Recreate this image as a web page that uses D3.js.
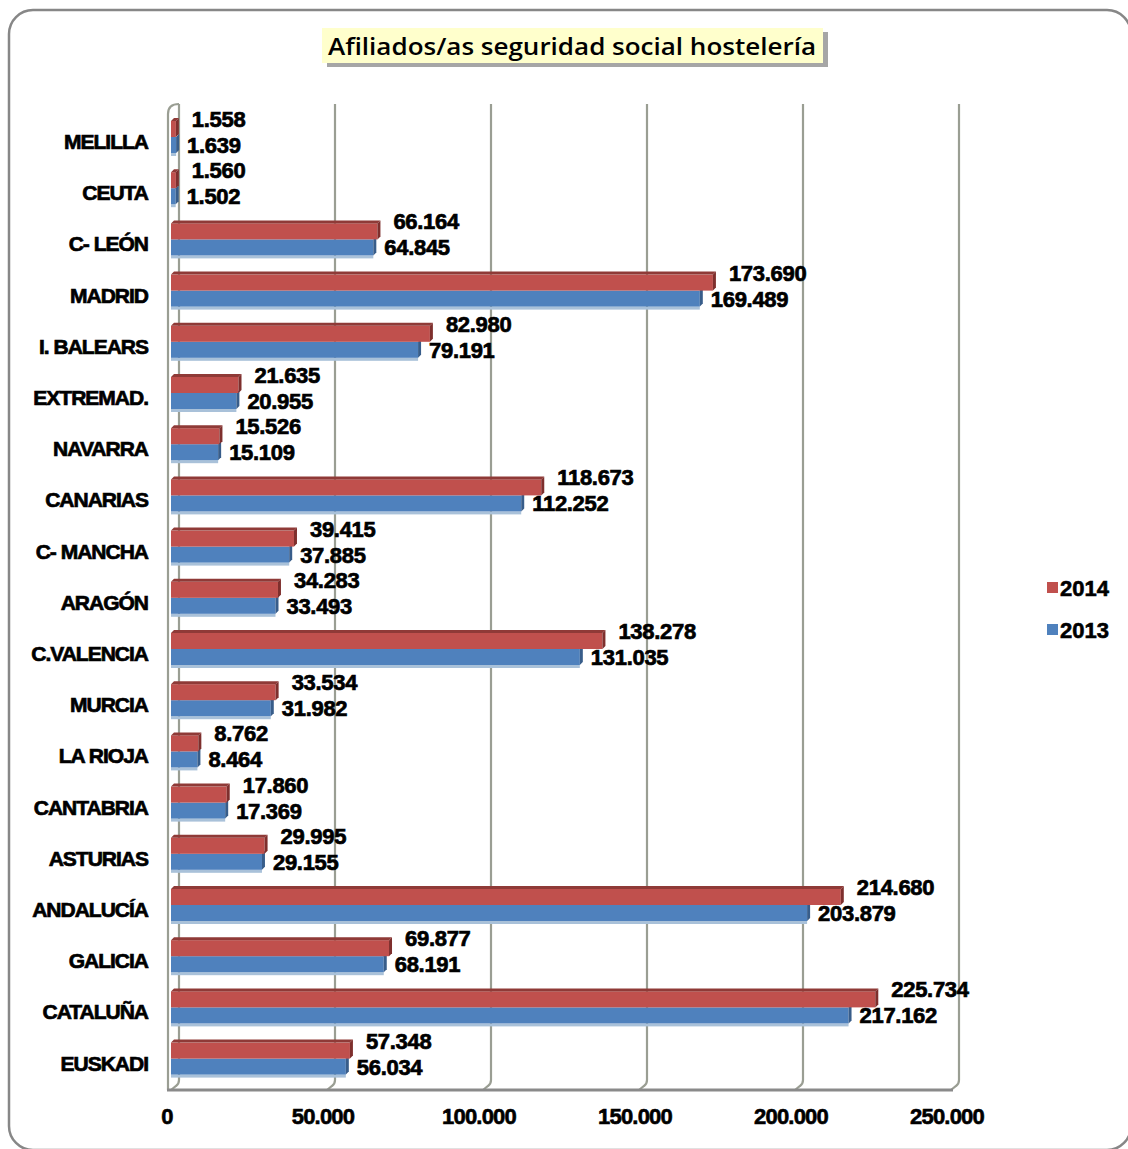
<!DOCTYPE html>
<html>
<head>
<meta charset="utf-8">
<script src="https://cdn.jsdelivr.net/npm/d3@7"></script>
<style>
  body { margin: 0; background: #fff; }
  svg { display: block; }
</style>
</head>
<body>
<div id="chart"></div>
<script>
// data, top row first (as drawn)
var regions = ["MELILLA", "CEUTA", "C- LEÓN", "MADRID", "I. BALEARS", "EXTREMAD.", "NAVARRA",
    "CANARIAS", "C- MANCHA", "ARAGÓN", "C.VALENCIA", "MURCIA", "LA RIOJA", "CANTABRIA",
    "ASTURIAS", "ANDALUCÍA", "GALICIA", "CATALUÑA", "EUSKADI"];
var values2014 = [1558, 1560, 66164, 173690, 82980, 21635, 15526, 118673, 39415, 34283,
    138278, 33534, 8762, 17860, 29995, 214680, 69877, 225734, 57348];
var values2013 = [1639, 1502, 64845, 169489, 79191, 20955, 15109, 112252, 37885, 33493,
    131035, 31982, 8464, 17369, 29155, 203879, 68191, 217162, 56034];
var xTicks = [0, 50000, 100000, 150000, 200000, 250000];
var seriesNames = ["2014", "2013"];
var seriesColors = ["#C0504D", "#4F81BD"];

var W = 1128, H = 1149;
var svg = d3.select("#chart").append("svg").attr("width", W).attr("height", H);

// rounded outer frame
svg.append("rect")
    .attr("x", 9).attr("y", 10).attr("width", 1122).attr("height", 1140)
    .attr("rx", 24).attr("ry", 24)
    .attr("fill", "#fff").attr("stroke", "#878787").attr("stroke-width", 2.5);

var x = d3.scaleLinear().domain([0, 250000]).range([171, 951]);
var y = d3.scaleBand().domain(regions).range([111.4, 1084.2]);
var depthX = 8, depthY = 8;
var floorY = 1090, topY = 104;
var fmt = d3.formatLocale({decimal: ",", thousands: ".", grouping: [3], currency: ["", ""]}).format(",d");

// back wall gridlines + floor diagonals
var grid = svg.append("g");
xTicks.forEach(function(t){
    grid.append("path")
        .attr("d", "M" + (x(t) + depthX) + "," + topY + " L" + (x(t) + depthX) + "," + (floorY - depthY - 2) +
              " Q" + (x(t) + depthX) + "," + (floorY - depthY + 2) + " " + (x(t) + depthX - 3) + "," + (floorY - depthY + 4) +
              " L" + x(t) + "," + floorY)
        .attr("fill", "none").attr("stroke", "#9a9e93").attr("stroke-width", 2.2);
});
// left side wall
svg.append("path")
    .attr("d", "M168," + floorY + " L168," + (topY + 10) + " Q168," + topY + " " + (x(0) + depthX) + "," + topY)
    .attr("fill", "none").attr("stroke", "#9a9e93").attr("stroke-width", 2.2);
// floor front edge
svg.append("line")
    .attr("x1", 167).attr("x2", x(250000) + 2).attr("y1", floorY).attr("y2", floorY)
    .attr("stroke", "#8a8a8a").attr("stroke-width", 3);

// bars
var barH = 16, d = 3;
var rows = svg.append("g").selectAll("g").data(regions).enter().append("g");

rows.each(function(r, i){
    var g = d3.select(this);
    var mid = y(r) + y.bandwidth() / 2;
    var x0 = x(0), x1r = x(values2014[i]), x1b = x(values2013[i]);

    // 2013 (blue, lower)
    g.append("rect").attr("x", x0).attr("y", mid + barH).attr("width", Math.max(0, x1b - x0)).attr("height", 3)
        .attr("fill", "#a9c1d9");
    g.append("rect").attr("x", x0).attr("y", mid).attr("width", x1b - x0).attr("height", barH)
        .attr("fill", seriesColors[1]);
    g.append("path")
        .attr("d", "M" + x1b + "," + mid + " L" + (x1b + d) + "," + (mid - d) + " L" + (x1b + d) + "," + (mid + barH - d) +
              " L" + x1b + "," + (mid + barH) + "Z")
        .attr("fill", "#385D8A");

    // 2014 (red, upper)
    var t = mid - barH;
    g.append("rect").attr("x", x0).attr("y", t).attr("width", x1r - x0).attr("height", barH)
        .attr("fill", seriesColors[0]);
    g.append("path")
        .attr("d", "M" + x0 + "," + t + " L" + (x0 + d) + "," + (t - d) + " L" + (x1r + d) + "," + (t - d) +
              " L" + x1r + "," + t + "Z")
        .attr("fill", "#8f3a37");
    g.append("path")
        .attr("d", "M" + x1r + "," + t + " L" + (x1r + d) + "," + (t - d) + " L" + (x1r + d) + "," + (t + barH - d) +
              " L" + x1r + "," + (t + barH) + "Z")
        .attr("fill", "#7e2f2d");

    // value labels
    g.append("text").attr("x", x1r + 16).attr("y", mid - 10)
        .attr("class", "val").text(fmt(values2014[i]));
    g.append("text").attr("x", x1b + 11).attr("y", mid + 16)
        .attr("class", "val").text(fmt(values2013[i]));

    // category label
    g.append("text").attr("x", 148).attr("y", mid + 12)
        .attr("text-anchor", "end").attr("class", "cat").text(r);
});

svg.selectAll("text.val")
    .attr("font-family", "Liberation Sans, Arial, sans-serif").attr("font-weight", "bold")
    .attr("font-size", 22).attr("letter-spacing", -0.3)
    .attr("fill", "#000").attr("stroke", "#000").attr("stroke-width", 0.7);
svg.selectAll("text.cat")
    .attr("font-family", "Liberation Sans, Arial, sans-serif").attr("font-weight", "bold")
    .attr("font-size", 21).attr("letter-spacing", -1)
    .attr("fill", "#000").attr("stroke", "#000").attr("stroke-width", 0.7);

// x axis labels
svg.append("g").selectAll("text").data(xTicks).enter().append("text")
    .attr("x", function(t){ return x(t) - 4; })
    .attr("y", 1124)
    .attr("text-anchor", "middle")
    .attr("font-family", "Liberation Sans, Arial, sans-serif").attr("font-weight", "bold")
    .attr("font-size", 22).attr("letter-spacing", -0.8)
    .attr("stroke", "#000").attr("stroke-width", 0.6)
    .text(function(t){ return fmt(t); });

// legend
var legend = svg.append("g").selectAll("g").data(seriesNames).enter().append("g")
    .attr("transform", function(s, i){ return "translate(1047," + (582 + i * 42) + ")"; });
legend.append("rect").attr("width", 11).attr("height", 11)
    .attr("fill", function(s, i){ return seriesColors[i]; });
legend.append("text").attr("x", 13).attr("y", 14)
    .attr("font-family", "Liberation Sans, Arial, sans-serif").attr("font-weight", "bold")
    .attr("font-size", 22).attr("stroke", "#000").attr("stroke-width", 0.6)
    .text(function(s){ return s; });

// title box
var title = svg.append("g");
title.append("rect").attr("x", 327).attr("y", 32).attr("width", 501).attr("height", 35).attr("fill", "#a6a6a6");
title.append("rect").attr("x", 322).attr("y", 28).attr("width", 501).attr("height", 35).attr("fill", "#ffffcc");
title.append("text").attr("x", 328).attr("y", 55)
    .attr("font-family", "Open Sans, Noto Sans, sans-serif").attr("font-size", 24).attr("font-weight", 600)
    .attr("textLength", 488).attr("lengthAdjust", "spacingAndGlyphs")
    .text("Afiliados/as seguridad social hostelería");
</script>
</body>
</html>
